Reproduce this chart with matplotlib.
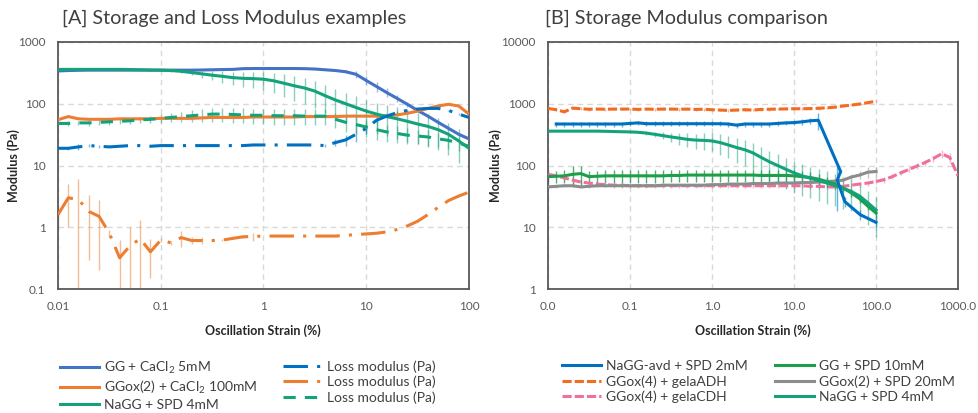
import matplotlib
matplotlib.use('Agg')
import matplotlib.pyplot as plt
from matplotlib.lines import Line2D
from matplotlib.ticker import NullLocator

plt.rcParams['font.family'] = ['Lato', 'DejaVu Sans']
plt.rcParams['mathtext.fontset'] = 'custom'
plt.rcParams['mathtext.rm'] = 'Lato'
plt.rcParams['mathtext.it'] = 'Lato:italic'
plt.rcParams['mathtext.bf'] = 'Lato:bold'

# ---- data ----
strain = [0.01, 0.0126, 0.0158, 0.02, 0.0251, 0.0316, 0.0398, 0.0501, 0.0631, 0.0794,
          0.1, 0.126, 0.158, 0.2, 0.251, 0.316, 0.398, 0.501, 0.631, 0.794,
          1, 1.26, 1.58, 2, 2.51, 3.16, 3.98, 5.01, 6.31, 7.94,
          10, 12.6, 15.8, 20, 25.1, 31.6, 39.8, 50.1, 63.1, 79.4, 100]
strain_cdh = strain + [126, 158, 200, 251, 316, 398, 501, 631, 794, 1000]

# panel A
gg_ca_G = [340, 345, 348, 350, 350, 350, 350, 350, 350, 350,
           350, 350, 350, 350, 352, 355, 358, 360, 370, 372,
           372, 372, 372, 372, 370, 365, 355, 345, 330, 300,
           238, 190, 152, 122, 98, 78, 63, 50, 40, 32, 27]
gg_ca_G_err = [0, 0, 0, 0, 0, 0, 0, 0, 0, 0,
               0, 0, 0, 0, 0, 0, 0, 0, 0, 0,
               0, 0, 0, 0, 0, 0, 5, 10, 20, 35,
               40, 35, 25, 15, 8, 5, 4, 3, 2, 2, 2]
gg_ca_L = [19, 19, 20, 21, 20.5, 20, 20.5, 21, 21, 20.5,
           21, 21, 21, 21, 21, 21, 21, 21, 21, 21.5,
           21.5, 21.5, 21.5, 21.5, 21.5, 21.5, 21, 23.5, 26, 32,
           40, 54, 63, 72, 78, 82, 84, 84, 78, 68, 60]
gg_ca_L_err = [0, 1, 2, 1, 1, 0, 0, 0, 0, 0,
               0, 0, 0, 0, 0, 0, 0, 0, 0, 0,
               0, 0, 0, 0, 0, 0, 1, 3, 5, 8,
               8, 6, 4, 4, 4, 3, 2, 2, 2, 2, 2]
ggox_ca_G = [55, 62, 57, 56, 56, 56, 57, 57, 57, 57,
             58, 58, 58, 58, 59, 60, 60, 60, 60, 61,
             61, 61, 61, 61, 62, 62, 62, 62, 63, 63,
             63, 63, 64, 66, 70, 76, 84, 92, 98, 92, 68]
ggox_ca_L = [1.6, 3.0, 2.8, 1.8, 1.5, 0.8, 0.32, 0.5, 0.65, 0.4,
             0.62, 0.56, 0.68, 0.61, 0.61, 0.61, 0.62, 0.66, 0.70, 0.71,
             0.72, 0.72, 0.72, 0.72, 0.72, 0.72, 0.72, 0.72, 0.74, 0.76,
             0.78, 0.80, 0.84, 0.92, 1.05, 1.25, 1.6, 2.1, 2.7, 3.2, 3.7]
ggox_ca_L_err = [0.7, 2.0, 3.3, 1.5, 1.3, 0.1, 0.3, 0.5, 0.65, 0.25,
                 0.05, 0.05, 0.2, 0.08, 0.08, 0.02, 0.02, 0.02, 0.02, 0.1,
                 0, 0, 0, 0, 0, 0, 0, 0, 0, 0,
                 0, 0, 0, 0, 0, 0, 0, 0, 0, 0, 0]
nagg_G = [360, 360, 360, 360, 360, 360, 360, 358, 355, 352,
          350, 345, 335, 320, 305, 290, 278, 265, 258, 255,
          250, 235, 215, 195, 180, 160, 135, 115, 100, 87,
          76, 68, 62, 57, 52, 47, 43, 38, 32, 25, 19]
nagg_G_err = [3, 3, 3, 3, 3, 3, 3, 5, 5, 8,
              10, 15, 22, 30, 40, 50, 60, 65, 70, 75,
              80, 85, 85, 85, 80, 75, 65, 58, 52, 46,
              40, 36, 32, 30, 28, 25, 23, 20, 17, 14, 12]
nagg_L = [48, 48, 49, 49, 50, 51, 52, 53, 55, 56,
          58, 60, 62, 64, 66, 68, 68, 67, 66, 65,
          65, 64, 64, 64, 63, 63, 63, 56, 50, 46,
          42, 38, 35, 33, 31, 30, 29, 27, 25.5, 23, 20.5]
nagg_L_err = [4, 4, 4, 5, 5, 5, 5, 6, 6, 8,
              10, 10, 12, 14, 16, 18, 18, 18, 18, 18,
              18, 18, 18, 18, 18, 18, 18, 16, 15, 14,
              13, 12, 11, 10, 9, 8, 8, 7, 7, 6, 5]

# panel B
avd_x = [0.0126, 0.0158, 0.02, 0.0251, 0.0316, 0.0398, 0.0501, 0.0631, 0.0794,
         0.1, 0.126, 0.158, 0.2, 0.251, 0.316, 0.398, 0.501, 0.631, 0.794,
         1, 1.26, 1.58, 2, 2.51, 3.16, 3.98, 5.01, 6.31, 7.94,
         10, 12.6, 15.8, 19.8, 37, 33.7, 41.7, 64, 100]
avd_G = [470, 470, 470, 470, 470, 470, 470, 470, 470,
         480, 490, 475, 475, 475, 475, 475, 475, 475, 475,
         475, 475, 470, 450, 470, 470, 470, 470, 480, 490,
         495, 510, 530, 540, 80, 58, 26, 16, 12]
avd_G_err = [45, 45, 45, 45, 45, 45, 45, 45, 45,
             45, 45, 45, 45, 45, 45, 45, 45, 45, 45,
             45, 45, 45, 45, 45, 45, 45, 45, 45, 45,
             50, 50, 60, 170, 5, 40, 5, 3, 2]
adh_G = [840, 800, 740, 850, 830, 815, 820, 815, 820, 820,
         820, 810, 820, 815, 820, 820, 815, 820, 810, 815,
         800, 790, 780, 790, 800, 790, 810, 815, 820, 825,
         830, 830, 835, 845, 860, 880, 920, 950, 990, 1040, 1100]
adh_G_err = [40, 40, 40, 40, 40, 40, 40, 40, 40, 40,
             40, 40, 40, 40, 40, 40, 40, 40, 40, 40,
             40, 40, 40, 40, 40, 40, 40, 40, 40, 40,
             40, 40, 40, 40, 40, 40, 40, 40, 40, 40, 40]
cdh_G = [72, 68, 63, 58, 54, 52, 50, 49, 48, 48,
         47, 47, 47, 47, 47, 47, 47, 47, 47, 47,
         47, 47, 47, 47, 47, 47, 47, 47, 47, 47,
         47, 47, 46, 46, 45, 45, 46, 48, 50, 52, 55,
         59, 66, 76, 86, 98, 112, 130, 155, 135, 68]
cdh_G_err = [6, 6, 5, 5, 5, 4, 4, 4, 4, 4,
             4, 4, 4, 4, 4, 4, 4, 4, 4, 4,
             4, 4, 4, 4, 4, 4, 4, 4, 4, 4,
             4, 4, 4, 4, 4, 4, 4, 4, 5, 5, 5,
             6, 6, 7, 8, 10, 12, 15, 25, 25, 5]
spd10_G = [66, 67, 68, 72, 74, 66, 67, 68, 68, 68,
           68, 68, 68, 68, 68, 69, 69, 70, 70, 70,
           70, 70, 70, 70, 70, 70, 69, 69, 69, 69,
           68, 66, 64, 60, 55, 50, 43, 36, 29, 22, 17]
spd10_G_err = [15, 15, 15, 25, 25, 15, 15, 15, 15, 15,
               15, 15, 15, 15, 15, 15, 15, 15, 15, 15,
               15, 15, 15, 15, 15, 15, 15, 15, 15, 15,
               15, 15, 15, 12, 10, 8, 6, 5, 4, 3, 3]
ggox_spd_G = [45, 46, 47, 47, 45, 46, 47, 47, 47, 47,
              47, 47, 47, 47, 48, 48, 48, 48, 48, 48,
              49, 49, 50, 50, 50, 51, 51, 51, 52, 52,
              52, 53, 53, 54, 55, 56, 58, 65, 70, 78, 80]
ggox_spd_G_err = [2, 2, 2, 2, 2, 2, 2, 2, 2, 2,
                  2, 2, 2, 2, 2, 2, 2, 2, 2, 2,
                  2, 2, 2, 2, 2, 2, 2, 2, 2, 2,
                  2, 3, 3, 3, 3, 4, 5, 8, 10, 15, 15]

BLUE = '#4472C4'
DBLUE = '#0070C0'
ORANGE = '#ED7D31'
TEAL = '#14A27A'
DORANGE = '#F26B21'
PINK = '#F0709A'
GREEN = '#1E9E4A'
GREY = '#8C8C8C'
LW = 2.2
GRID = '#D9D9D9'
TXT = '#595959'

fig = plt.figure(figsize=(9.79, 4.13), dpi=100)
axA = fig.add_axes([58 / 979, 1 - 289 / 413, 411 / 979, 247 / 413])
axB = fig.add_axes([548 / 979, 1 - 289 / 413, 410 / 979, 247 / 413])


def errbars(ax, x, y, err, color, alpha=0.5):
    ax.errorbar(x, y, yerr=err, fmt='none', ecolor=color, elinewidth=1.0,
                capsize=0, alpha=alpha, zorder=2)


# ---- panel A ----
errbars(axA, strain, gg_ca_G, gg_ca_G_err, BLUE)
errbars(axA, strain, gg_ca_L, gg_ca_L_err, DBLUE)
errbars(axA, strain, ggox_ca_L, ggox_ca_L_err, ORANGE)
errbars(axA, strain, nagg_G, nagg_G_err, TEAL)
errbars(axA, strain, nagg_L, nagg_L_err, TEAL)
axA.plot(strain, gg_ca_G, color=BLUE, lw=LW, zorder=3)
axA.plot(strain, ggox_ca_G, color=ORANGE, lw=LW, zorder=3)
axA.plot(strain, nagg_G, color=TEAL, lw=LW, zorder=3)
axA.plot(strain, gg_ca_L, color=DBLUE, lw=LW, dashes=(8, 3, 1, 3), zorder=3)
axA.plot(strain, ggox_ca_L, color=ORANGE, lw=LW, dashes=(8, 3, 1, 3), zorder=3)
axA.plot(strain, nagg_L, color=TEAL, lw=LW, dashes=(4, 3), zorder=3)

axA.set_xscale('log')
axA.set_yscale('log')
axA.set_xlim(0.01, 100)
axA.set_ylim(0.1, 1000)
axA.set_xticks([0.01, 0.1, 1, 10, 100], ['0.01', '0.1', '1', '10', '100'])
axA.set_yticks([0.1, 1, 10, 100, 1000], ['0.1', '1', '10', '100', '1000'])

# ---- panel B ----
errbars(axB, strain, adh_G, adh_G_err, DORANGE)
errbars(axB, strain_cdh, cdh_G, cdh_G_err, PINK)
errbars(axB, strain, ggox_spd_G, ggox_spd_G_err, GREY)
errbars(axB, strain, spd10_G, spd10_G_err, GREEN, alpha=0.8)
errbars(axB, avd_x, avd_G, avd_G_err, '#2E9BE0', alpha=0.75)
errbars(axB, strain, nagg_G, nagg_G_err, TEAL)
axB.plot(strain, adh_G, color=DORANGE, lw=LW, dashes=(3, 1), zorder=3)
axB.plot(strain_cdh, cdh_G, color=PINK, lw=LW, dashes=(3, 1), zorder=3)
axB.plot(strain, ggox_spd_G, color=GREY, lw=LW, zorder=3)
axB.plot(strain, spd10_G, color=GREEN, lw=LW, zorder=3)
axB.plot(strain, nagg_G, color=TEAL, lw=LW, zorder=3)
axB.plot(avd_x, avd_G, color=DBLUE, lw=LW, zorder=4)

axB.set_xscale('log')
axB.set_yscale('log')
axB.set_xlim(0.01, 1000)
axB.set_ylim(1, 10000)
axB.set_xticks([0.01, 0.1, 1, 10, 100, 1000],
               ['0.0', '0.1', '1.0', '10.0', '100.0', '1000.0'])
axB.set_yticks([1, 10, 100, 1000, 10000], ['1', '10', '100', '1000', '10000'])

for ax in (axA, axB):
    ax.xaxis.set_minor_locator(NullLocator())
    ax.yaxis.set_minor_locator(NullLocator())
    ax.grid(True, color=GRID, ls=(0, (4, 3)), lw=1.0, zorder=0)
    ax.set_axisbelow(True)
    ax.tick_params(length=0, labelsize=8.5, labelcolor=TXT)
    ax.tick_params(axis='y', pad=9)
    ax.tick_params(axis='x', pad=9)
    for s in ax.spines.values():
        s.set_color('#595959')
        s.set_linewidth(1.3)

# titles and axis labels
fig.text(62 / 979, 1 - 18 / 413, '[A] Storage and Loss Modulus examples',
         fontsize=14.2, color='#404040', va='center', ha='left')
fig.text(545 / 979, 1 - 18 / 413, '[B] Storage Modulus comparison',
         fontsize=14.2, color='#404040', va='center', ha='left')
for cx in (263, 753):
    fig.text(cx / 979, 1 - 331 / 413, 'Oscillation Strain (%)', fontsize=9,
             fontweight='bold', color='#262626', ha='center', va='center')
for lx in (14, 496):
    fig.text(lx / 979, 1 - 166 / 413, 'Modulus (Pa)', fontsize=9,
             fontweight='bold', color='#262626', ha='center', va='center',
             rotation=90)


# legends
def leg(handles, labels, x, y):
    return fig.legend(handles, labels, loc='upper left',
                      bbox_to_anchor=(x / 979, 1 - y / 413), frameon=False,
                      fontsize=10, handlelength=2.8, handletextpad=0.35,
                      labelspacing=0.22, borderpad=0, borderaxespad=0,
                      labelcolor='#404040')


def h(color, dashes=None):
    if dashes is None:
        return Line2D([], [], color=color, lw=LW)
    return Line2D([], [], color=color, lw=LW, dashes=dashes)


leg([h(BLUE), h(ORANGE), h(TEAL)],
    ['GG + CaCl$_2$ 5mM', 'GGox(2) + CaCl$_2$ 100mM', 'NaGG + SPD 4mM'], 60, 360)
leg([h(DBLUE, (8, 3, 1, 3)), h(ORANGE, (8, 3, 1, 3)), h(TEAL, (4, 3))],
    ['Loss modulus (Pa)'] * 3, 283, 360)
leg([h(DBLUE), h(DORANGE, (3, 1)), h(PINK, (3, 1))],
    ['NaGG-avd + SPD 2mM', 'GGox(4) + gelaADH', 'GGox(4) + gelaCDH'], 562, 360)
leg([h(GREEN), h(GREY), h(TEAL)],
    ['GG + SPD 10mM', 'GGox(2) + SPD 20mM', 'NaGG + SPD 4mM'], 775, 360)

fig.savefig('out.png', dpi=100)
